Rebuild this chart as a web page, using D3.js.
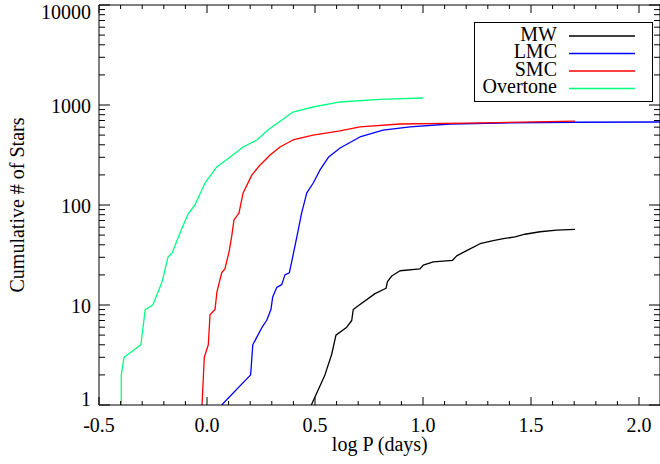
<!DOCTYPE html>
<html>
<head>
<meta charset="utf-8">
<script src="https://cdn.jsdelivr.net/npm/d3@7/dist/d3.min.js"></script>
<style>
  html, body { margin: 0; padding: 0; background: #fff; }
  svg { display: block; }
</style>
</head>
<body>
<svg id="chart" width="660" height="464"></svg>
<script>
// ---- data (log P in days, cumulative number of stars) ----
const seriesNames = ["MW", "LMC", "SMC", "Overtone"];
const seriesColors = ["#000000", "#0000ff", "#ff0000", "#00ff80"];

const mwLogP = [0.483, 0.546, 0.577, 0.597, 0.647, 0.670, 0.677, 0.705, 0.778, 0.829, 0.835, 0.855, 0.894, 0.986, 1.001, 1.048, 1.137, 1.156, 1.202, 1.264, 1.325, 1.372, 1.426, 1.472, 1.542, 1.619, 1.704];
const mwN    = [1, 2, 3.2, 5, 6, 7, 9, 10, 13, 14.7, 17, 19.5, 22, 23, 25, 27, 28, 31, 35, 41, 44, 46, 48, 51, 54, 56, 57];

const lmcLogP = [0.068, 0.202, 0.212, 0.255, 0.276, 0.296, 0.304, 0.323, 0.346, 0.361, 0.381, 0.392, 0.415, 0.438, 0.462, 0.492, 0.523, 0.562, 0.616, 0.708, 0.815, 0.94, 1.125, 1.356, 1.70, 2.10];
const lmcN    = [1, 2, 4, 6, 7, 9, 12, 15, 16, 20, 21, 27, 47, 83, 132, 166, 224, 300, 372, 479, 562, 603, 646, 660, 672, 676];

const smcLogP = [-0.023, -0.0125, 0.006, 0.014, 0.037, 0.046, 0.068, 0.083, 0.102, 0.114, 0.125, 0.148, 0.167, 0.208, 0.245, 0.292, 0.338, 0.398, 0.491, 0.616, 0.708, 0.894, 1.204, 1.704];
const smcN    = [1, 3, 4, 8, 9, 13.5, 21, 23, 34, 48, 71, 83, 132, 200, 250, 316, 380, 447, 500, 550, 603, 646, 660, 690];

const ovLogP = [-0.397, -0.397, -0.384, -0.306, -0.286, -0.251, -0.208, -0.181, -0.162, -0.120, -0.088, -0.056, -0.009, 0.045, 0.106, 0.167, 0.231, 0.282, 0.347, 0.398, 0.491, 0.616, 0.80, 1.0];
const ovN    = [1, 2, 3, 4, 9, 10, 17, 30, 33, 56, 81, 100, 166, 240, 300, 380, 447, 562, 708, 851, 955, 1072, 1140, 1175];

const xMajorTicks = [-0.5, 0.0, 0.5, 1.0, 1.5, 2.0];
const xTickLabels = ["-0.5", "0.0", "0.5", "1.0", "1.5", "2.0"];
const yMajorTicks = [1, 10, 100, 1000, 10000];
const yTickLabels = ["1", "10", "100", "1000", "10000"];

const xTitle = "log P (days)";
const yTitle = "Cumulative # of Stars";

// ---- layout ----
const FONT = "Liberation Serif";
const svg = d3.select("#chart");
const L = 99, R = 660.6, T = 5, B = 405;
const x = d3.scaleLinear().domain([-0.5, 2.1]).range([L, R]);
const y = d3.scaleLog().domain([1, 10000]).range([B, T]);

const xMinor = d3.range(-5, 22).map(i => i / 10).filter(v => !xMajorTicks.some(m => Math.abs(m - v) < 1e-9));
const yMinor = [];
[1, 10, 100, 1000].forEach(d => { for (let k = 2; k <= 9; k++) yMinor.push(d * k); });

const g = svg.append("g");

svg.append("defs").append("clipPath").attr("id", "plotclip")
  .append("rect").attr("x", L).attr("y", T).attr("width", R - L).attr("height", B - T);

// series lines
const series = [
  [mwLogP, mwN], [lmcLogP, lmcN], [smcLogP, smcN], [ovLogP, ovN]
];
const line = d3.line().x(d => x(d[0])).y(d => y(d[1]));
const lines = g.append("g").attr("clip-path", "url(#plotclip)");
series.forEach((s, i) => {
  const pts = s[0].map((v, j) => [v, s[1][j]]);
  lines.append("path").datum(pts)
    .attr("d", line)
    .attr("fill", "none")
    .attr("stroke", seriesColors[i])
    .attr("stroke-width", 1.3)
    .attr("stroke-linejoin", "round");
});

// axes frame
const ax = g.append("g").attr("stroke", "#000").attr("stroke-width", 1).attr("fill", "none");
ax.append("line").attr("x1", L).attr("x2", R).attr("y1", B).attr("y2", B);
ax.append("line").attr("x1", L).attr("x2", R).attr("y1", T).attr("y2", T);
ax.append("line").attr("x1", L).attr("x2", L).attr("y1", T).attr("y2", B);
ax.append("line").attr("x1", R - 0.6).attr("x2", R - 0.6).attr("y1", T).attr("y2", B);

xMajorTicks.forEach(v => {
  ax.append("line").attr("x1", x(v)).attr("x2", x(v)).attr("y1", B).attr("y2", B - 8);
  ax.append("line").attr("x1", x(v)).attr("x2", x(v)).attr("y1", T).attr("y2", T + 8);
});
xMinor.forEach(v => {
  ax.append("line").attr("x1", x(v)).attr("x2", x(v)).attr("y1", B).attr("y2", B - 4);
  ax.append("line").attr("x1", x(v)).attr("x2", x(v)).attr("y1", T).attr("y2", T + 4);
});
yMajorTicks.forEach(v => {
  ax.append("line").attr("x1", L).attr("x2", L + 11).attr("y1", y(v)).attr("y2", y(v));
  ax.append("line").attr("x1", R - 0.6).attr("x2", R - 11.6).attr("y1", y(v)).attr("y2", y(v));
});
yMinor.forEach(v => {
  ax.append("line").attr("x1", L).attr("x2", L + 6).attr("y1", y(v)).attr("y2", y(v));
  ax.append("line").attr("x1", R - 0.6).attr("x2", R - 6.6).attr("y1", y(v)).attr("y2", y(v));
});

// tick labels
const fs = 20;
function txt(sel) { return sel.append("text").attr("font-family", FONT).attr("font-size", fs).attr("fill", "#000"); }
xMajorTicks.forEach((v, i) => {
  txt(g).attr("x", x(v)).attr("y", 432).attr("text-anchor", "middle").text(xTickLabels[i]);
});
yMajorTicks.forEach((v, i) => {
  let cy = y(v) + 1;
  cy = Math.min(Math.max(cy, T + 7), B - 6);
  txt(g).attr("x", 91).attr("y", cy).attr("dy", "0.33em").attr("text-anchor", "end").text(yTickLabels[i]);
});

// axis titles
txt(g).attr("x", (L + R) / 2).attr("y", 451).attr("text-anchor", "middle").text(xTitle);
txt(g).attr("transform", "translate(24," + ((T + B) / 2) + ") rotate(-90)")
  .attr("text-anchor", "middle").text(yTitle);

// legend
const lg = g.append("g");
lg.append("rect").attr("x", 474.5).attr("y", 22.5).attr("width", 178).attr("height", 79)
  .attr("fill", "#fff").attr("stroke", "#000").attr("stroke-width", 1);
const rowY = [36, 53.5, 71, 88.5];
seriesNames.forEach((name, i) => {
  txt(lg).attr("x", 557).attr("y", rowY[i] + 4.5).attr("text-anchor", "end").text(name);
  lg.append("line").attr("x1", 569).attr("x2", 635).attr("y1", rowY[i]).attr("y2", rowY[i])
    .attr("stroke", seriesColors[i]).attr("stroke-width", 1.3);
});
</script>
</body>
</html>
